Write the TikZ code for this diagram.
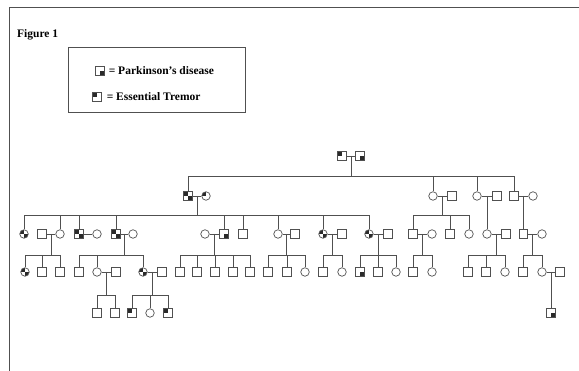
\documentclass[tikz,border=0pt]{standalone}
\usepackage{fontspec}
\setmainfont{Liberation Serif}
\usepackage{tikz}
\usetikzlibrary{positioning, calc}
\definecolor{scanline}{HTML}{505050}
\definecolor{scanfill}{HTML}{2A2A2A}
\tikzset{
  link/.style={draw=scanline, line width=0.7pt},
  male/.style={draw=scanline, line width=0.7pt, minimum size=8.5pt, inner sep=0pt},
  female/.style={draw=scanline, line width=0.7pt, circle, minimum size=8.5pt, inner sep=0pt},
  pd/.style={path picture={\fill[scanfill] (path picture bounding box.center) rectangle (path picture bounding box.south east);}},
  et/.style={path picture={\fill[scanfill] (path picture bounding box.center) rectangle (path picture bounding box.north west);}},
  pdet/.style={path picture={\fill[scanfill] (path picture bounding box.center) rectangle (path picture bounding box.north west);
      \fill[scanfill] (path picture bounding box.center) rectangle (path picture bounding box.south east);}},
  legendtext/.style={font=\fontsize{11.5}{13}\selectfont\bfseries, inner sep=0pt, anchor=west}
}

\begin{document}
\begin{tikzpicture}[x=1pt, y=-1pt]
  \useasboundingbox (0,0) rectangle (579,371);
  \draw[draw=scanline, line width=1pt] (9,371) -- (9,8) -- (579,8);

  \node[legendtext] (figtitle) at (17,35) {Figure 1};
  \node[draw=scanline, line width=0.7pt, minimum width=177pt, minimum height=65pt] (legend) at (156.5,79.5) {};
  \node[male, pd] (keypd) at (100,71) {};
  \node[legendtext, right=4pt of keypd] (keypdtext) {= Parkinson's disease};
  \node[male, et] (keyet) at (97,97) {};
  \node[legendtext, right=5pt of keyet] (keyettext) {= Essential Tremor};

  % generation I
  \node[male, et] (I1) at (342,156) {};
  \node[male, pd] (I2) at (360,156) {};

  % generation II
  \node[male, pdet] (II1) at (188,196) {};
  \node[female, et] (II2) at (206,196) {};
  \node[female] (II3) at (433,196) {};
  \node[male] (II4) at (452,196) {};
  \node[female] (II5) at (477,196) {};
  \node[male] (II6) at (497,196) {};
  \node[male] (II7) at (514,196) {};
  \node[female] (II8) at (533,196) {};

  % generation III
  \node[female, pdet] (III1) at (24,234) {};
  \node[male] (III2) at (42,234) {};
  \node[female] (III3) at (60,234) {};
  \node[male, pdet] (III4) at (79,234) {};
  \node[female] (III5) at (97,234) {};
  \node[male, pdet] (III6) at (116,234) {};
  \node[female] (III7) at (133,234) {};
  \node[female] (III8) at (205,234) {};
  \node[male, pd] (III9) at (224,234) {};
  \node[male] (III10) at (243,234) {};
  \node[female] (III11) at (278,234) {};
  \node[male] (III12) at (295,234) {};
  \node[female, pdet] (III13) at (323,234) {};
  \node[male] (III14) at (342,234) {};
  \node[female, pdet] (III15) at (369,234) {};
  \node[male] (III16) at (388,234) {};
  \node[male] (III17) at (413,234) {};
  \node[female] (III18) at (432,234) {};
  \node[male] (III19) at (450,234) {};
  \node[female] (III20) at (469,234) {};
  \node[female] (III21) at (487,234) {};
  \node[male] (III22) at (506,234) {};
  \node[male] (III23) at (523.5,234) {};
  \node[female] (III24) at (542,234) {};

  % generation IV
  \node[female, pdet] (IV1) at (25,272) {};
  \node[male] (IV2) at (42,272) {};
  \node[male] (IV3) at (60,272) {};
  \node[male] (IV4) at (79,272) {};
  \node[female] (IV5) at (97,272) {};
  \node[male] (IV6) at (116,272) {};
  \node[female, pdet] (IV7) at (143,272) {};
  \node[male] (IV8) at (162,272) {};
  \node[male] (IV9) at (180,272) {};
  \node[male] (IV10) at (197,272) {};
  \node[male] (IV11) at (215,272) {};
  \node[male] (IV12) at (233,272) {};
  \node[male] (IV13) at (250,272) {};
  \node[male] (IV14) at (268,272) {};
  \node[male] (IV15) at (287,272) {};
  \node[female] (IV16) at (305,272) {};
  \node[male] (IV17) at (323,272) {};
  \node[female] (IV18) at (342,272) {};
  \node[male, pd] (IV19) at (360,272) {};
  \node[male] (IV20) at (378,272) {};
  \node[female] (IV21) at (396,272) {};
  \node[male] (IV22) at (413,272) {};
  \node[female] (IV23) at (432,272) {};
  \node[male] (IV24) at (468,272) {};
  \node[male] (IV25) at (486,272) {};
  \node[female] (IV26) at (505,272) {};
  \node[male] (IV27) at (523,272) {};
  \node[female] (IV28) at (542,272) {};
  \node[male] (IV29) at (560,272) {};

  % generation V
  \node[male] (V1) at (97,313) {};
  \node[male] (V2) at (115,313) {};
  \node[male, et] (V3) at (132,313) {};
  \node[female] (V4) at (150,313) {};
  \node[male, et] (V5) at (168,313) {};
  \node[male, pd] (V6) at (551,313) {};

  % couples and their descent lines
  \draw[link] (III4) -- (III5);
  \foreach \a/\b/\n/\y in {I1/I2/1/176, II1/II2/2/215, II3/II4/3/215, II5/II6/4/215,
      II7/II8/5/215, III2/III3/6/255, III6/III7/7/255, III8/III9/8/255, III11/III12/9/255,
      III13/III14/10/255, III15/III16/11/255, III17/III18/12/255, III21/III22/13/255,
      III23/III24/14/255, IV5/IV6/15/295, IV7/IV8/16/295, IV28/IV29/17/295} {
    \draw[link] (\a) -- (\b);
    \coordinate (m\n) at ($(\a)!.5!(\b)$);
    \draw[link] (m\n) -- (m\n |- 0,\y) coordinate (k\n);
  }

  % sibships
  \foreach \c in {II1,II3,II5,II7} \draw[link] (k1) -| (\c);
  \foreach \c in {III1,III3,III4,III6,III9,III10,III11,III13,III15} \draw[link] (k2) -| (\c);
  \foreach \c in {III17,III19,III20} \draw[link] (k3) -| (\c);
  \draw[link] (k4) -| (III21);
  \draw[link] (k5) -| (III23);
  \foreach \c in {IV1,IV2,IV3} \draw[link] (k6) -| (\c);
  \foreach \c in {IV4,IV5,IV7} \draw[link] (k7) -| (\c);
  \foreach \c in {IV9,IV10,IV11,IV12,IV13} \draw[link] (k8) -| (\c);
  \foreach \c in {IV14,IV15,IV16} \draw[link] (k9) -| (\c);
  \foreach \c in {IV17,IV18} \draw[link] (k10) -| (\c);
  \foreach \c in {IV19,IV20,IV21} \draw[link] (k11) -| (\c);
  \foreach \c in {IV22,IV23} \draw[link] (k12) -| (\c);
  \foreach \c in {IV24,IV25,IV26} \draw[link] (k13) -| (\c);
  \foreach \c in {IV27,IV28} \draw[link] (k14) -| (\c);
  \foreach \c in {V1,V2} \draw[link] (k15) -| (\c);
  \foreach \c in {V3,V4,V5} \draw[link] (k16) -| (\c);
  \draw[link] (k17) -| (V6);
\end{tikzpicture}
\end{document}
